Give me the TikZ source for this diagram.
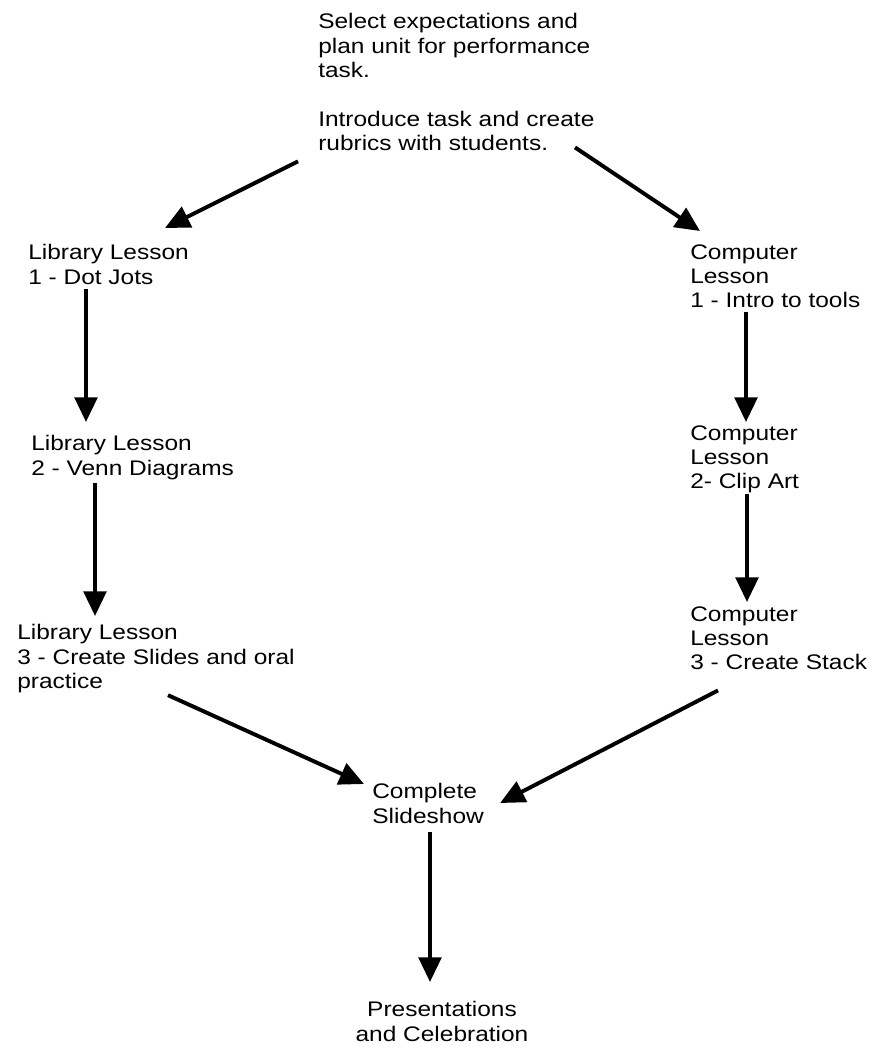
\documentclass[tikz,border=0pt]{standalone}
\usepackage{fontspec}
\setmainfont{Liberation Sans}[FakeStretch=1.16]
\usepackage{tikz}
\usetikzlibrary{arrows.meta,calc}

\begin{document}
\begin{tikzpicture}[
  x=0.025cm, y=-0.025cm,
  lbl/.style={inner sep=0pt, anchor=north west, align=left, font=\fontsize{15}{17.4}\selectfont},
  arr/.style={-{Triangle[length=17.5pt, width=16pt]}, line width=2.8pt}
]
\useasboundingbox (0,0) rectangle (872,1047);
\node[lbl] (intro) at (318,13) {Select expectations and\\plan unit for performance\\task.\\[17.4pt]Introduce task and create\\rubrics with students.};
\node[lbl] (lib1) at (28,244) {Library Lesson\\1 - Dot Jots};
\node[lbl] (lib2) at (31,435) {Library Lesson\\2 - Venn Diagrams};
\node[lbl] (lib3) at (17,624) {Library Lesson\\3 - Create Slides and oral\\practice};
\node[lbl] (comp1) at (690,244) {Computer\\Lesson\\1 - Intro to tools};
\node[lbl] (comp2) at (690,425) {Computer\\Lesson\\2- Clip Art};
\node[lbl] (comp3) at (690,606) {Computer\\Lesson\\3 - Create Stack};
\node[lbl] (complete) at (372,783) {Complete\\Slideshow};
\node[lbl, anchor=north, align=center] (present) at (442,1001) {Presentations\\and Celebration};
% left branch
\draw[arr] ($(intro.south west)+(-20,10)$) -- ($(lib1.north west)+(137,-16)$);
\draw[arr] ($(lib1.south west)+(58,4)$) -- ($(lib2.north west)+(55,-13)$);
\draw[arr] ($(lib2.south west)+(64,3)$) -- ($(lib3.north west)+(78,-8)$);
\draw[arr] ($(lib3.south west)+(151,2)$) -- ($(complete.north west)+(-8,1)$);
% right branch
\draw[arr] ($(intro.south west)+(257,-4)$) -- ($(comp1.north west)+(10,-13)$);
\draw[arr] ($(comp1.south west)+(56,4)$) -- ($(comp2.north west)+(56,-3)$);
\draw[arr] ($(comp2.south west)+(57,0)$) -- ($(comp3.north west)+(57,-4)$);
\draw[arr] ($(comp3.south west)+(28,20)$) -- ($(complete.north east)+(16,20)$);
% end
\draw[arr] ($(complete.south west)+(58,8)$) -- ($(present.north)+(-12,-19)$);
\end{tikzpicture}
\end{document}
